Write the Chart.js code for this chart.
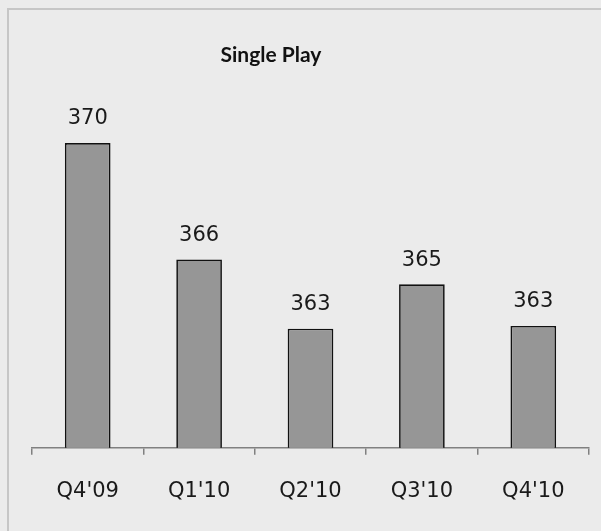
<!DOCTYPE html>
<html>
<head>
<meta charset="utf-8">
<script src="https://cdn.jsdelivr.net/npm/chart.js@4/dist/chart.umd.min.js"></script>
<style>
  html, body { margin: 0; padding: 0; background: #ebebeb; width: 601px; height: 531px; overflow: hidden; }
  #frame { position: absolute; left: 7px; top: 8px; width: 700px; height: 700px; border: 2px solid #c6c6c6; box-sizing: border-box; }
  #wrap { position: absolute; left: 0; top: 0; width: 601px; height: 531px; }
</style>
</head>
<body>
<div id="frame"></div>
<div id="wrap"><canvas id="c" width="601" height="531"></canvas></div>
<script>
const categories = ["Q4'09", "Q1'10", "Q2'10", "Q3'10", "Q4'10"];
const values = [370.0, 365.8, 363.3, 364.9, 363.4];
const labels = ["370", "366", "363", "365", "363"];
const chartTitle = "Single Play";

const valueLabels = {
  id: 'valueLabels',
  afterDatasetsDraw(chart) {
    const ctx = chart.ctx;
    const meta = chart.getDatasetMeta(0);
    ctx.save();
    ctx.font = '21px "DejaVu Sans"';
    ctx.fillStyle = '#1a1a1a';
    ctx.textAlign = 'center';
    ctx.textBaseline = 'middle';
    meta.data.forEach((bar, i) => {
      ctx.fillText(labels[i], bar.x, bar.y - 24);
    });
    ctx.font = 'bold 21px Lato';
    ctx.fillStyle = '#111';
    ctx.fillText(chartTitle, 271, 55);
    ctx.restore();
  }
};

new Chart(document.getElementById('c'), {
  type: 'bar',
  data: {
    labels: categories,
    datasets: [{
      data: values,
      backgroundColor: '#969696',
      borderColor: '#111111',
      borderWidth: 1.7,
      borderSkipped: 'bottom',
      categoryPercentage: 0.82,
      barPercentage: 0.5
    }]
  },
  options: {
    responsive: false,
    animation: false,
    events: [],
    layout: { padding: { left: 32, right: 12, top: 87.6, bottom: 3 } },
    plugins: {
      legend: { display: false },
      tooltip: { enabled: false },
      title: { display: false }
    },
    scales: {
      y: {
        display: false,
        min: 359,
        max: 372
      },
      x: {
        grid: {
          offset: true,
          drawOnChartArea: false,
          drawTicks: true,
          tickLength: 7,
          color: '#808080',
          lineWidth: 1.5
        },
        border: { display: true, color: '#808080', width: 1.5 },
        ticks: {
          color: '#1a1a1a',
          font: { family: 'DejaVu Sans', size: 21 },
          padding: 24
        }
      }
    }
  },
  plugins: [valueLabels]
});
</script>
</body>
</html>
